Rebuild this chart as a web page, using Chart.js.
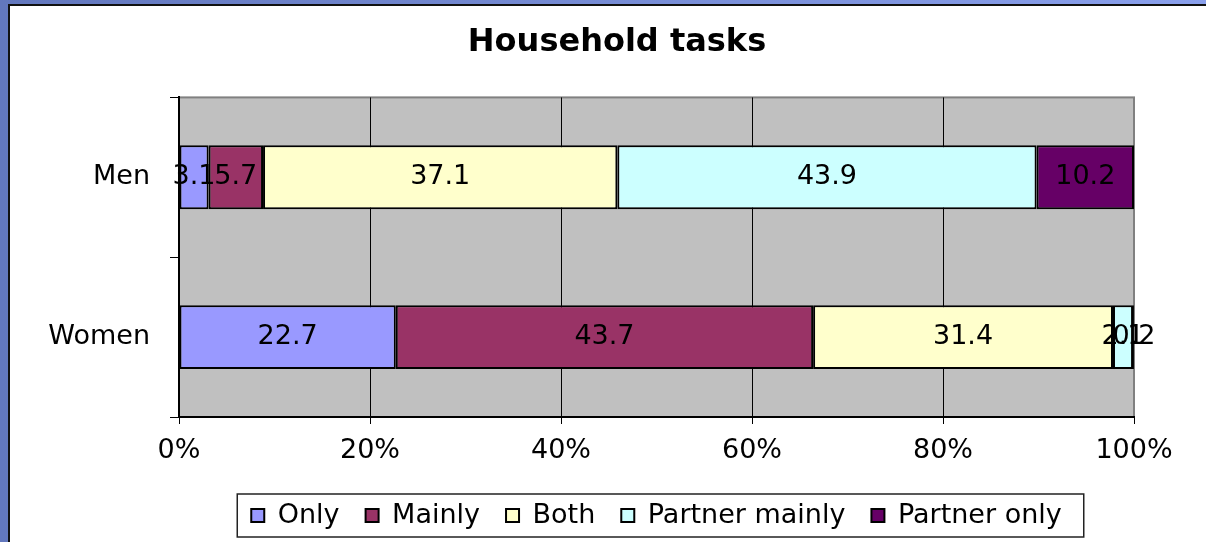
<!DOCTYPE html>
<html>
<head>
<meta charset="utf-8">
<script src="https://cdn.jsdelivr.net/npm/chart.js@4.4.1/dist/chart.umd.min.js"></script>
<style>
  html, body { margin: 0; padding: 0; overflow: hidden; width: 1206px; height: 542px; }
  body { background: linear-gradient(90deg, #6277bd, #8aa0ec); position: relative; }
  #frame { position: absolute; left: 8px; top: 4px; width: 1220px; height: 560px;
           background: #fff; border-left: 2px solid #111; border-top: 2px solid #111; }
  #chart { position: absolute; left: 0; top: 0; }
</style>
</head>
<body>
<div id="frame"></div>
<canvas id="chart" width="1234" height="542"></canvas>
<script>
const categories = ['Men', 'Women'];
const seriesNames = ['Only', 'Mainly', 'Both', 'Partner mainly', 'Partner only'];
const onlyValues = [3.1, 22.7];
const mainlyValues = [5.7, 43.7];
const bothValues = [37.1, 31.4];
const partnerMainlyValues = [43.9, 2.1];
const partnerOnlyValues = [10.2, 0.2];
const tickLabels = ['0%', '20%', '40%', '60%', '80%', '100%'];
const colors = ['#9999ff', '#993366', '#ffffcc', '#ccffff', '#660066'];

Chart.defaults.font.family = "'DejaVu Sans', sans-serif";
Chart.defaults.color = '#000';

// grey plot background with a grey frame
const plotBackground = {
  id: 'plotBackground',
  beforeDraw(chart) {
    const { ctx, chartArea: a } = chart;
    // let the category labels run past the narrow y axis box
    chart.scales.y.left = 0;
    ctx.save();
    ctx.fillStyle = '#c0c0c0';
    ctx.fillRect(a.left, a.top, a.right - a.left, a.bottom - a.top);
    ctx.strokeStyle = '#808080';
    ctx.lineWidth = 2;
    ctx.strokeRect(a.left, a.top, a.right - a.left, a.bottom - a.top);
    ctx.restore();
  }
};

// value labels in the middle of each segment
const barLabels = {
  id: 'barLabels',
  afterDatasetsDraw(chart) {
    const ctx = chart.ctx;
    ctx.save();
    ctx.font = "27px 'DejaVu Sans', sans-serif";
    ctx.fillStyle = '#000';
    ctx.textAlign = 'center';
    ctx.textBaseline = 'middle';
    chart.data.datasets.forEach((ds, i) => {
      chart.getDatasetMeta(i).data.forEach((bar, j) => {
        const p = bar.getCenterPoint();
        ctx.fillText(ds.data[j].toFixed(1), p.x, p.y);
      });
    });
    ctx.restore();
  }
};

// box round the legend
const legendBox = {
  id: 'legendBox',
  afterDraw(chart) {
    const boxes = chart.legend.legendHitBoxes;
    if (!boxes || !boxes.length) return;
    const left = Math.min(...boxes.map(b => b.left)) - 14;
    const right = Math.max(...boxes.map(b => b.left + b.width)) + 22;
    const top = boxes[0].top - 8;
    const bottom = boxes[0].top + boxes[0].height + 8;
    const ctx = chart.ctx;
    ctx.save();
    ctx.strokeStyle = '#222';
    ctx.lineWidth = 1.5;
    ctx.strokeRect(left, top, right - left, bottom - top);
    ctx.restore();
  }
};

const seriesValues = [onlyValues, mainlyValues, bothValues, partnerMainlyValues, partnerOnlyValues];

new Chart(document.getElementById('chart'), {
  type: 'bar',
  data: {
    labels: categories,
    datasets: seriesNames.map((name, i) => ({
      label: name,
      data: seriesValues[i],
      backgroundColor: colors[i],
      borderColor: '#000',
      borderWidth: 2,
      borderSkipped: false,
      barPercentage: 0.8,
      categoryPercentage: 0.5
    }))
  },
  options: {
    indexAxis: 'y',
    responsive: false,
    animation: false,
    layout: { padding: { left: 100, right: 100, top: 0, bottom: 3 } },
    plugins: {
      title: {
        display: true,
        text: 'Household tasks',
        font: { size: 32, weight: 'bold' },
        color: '#000',
        padding: { top: 23, bottom: 36 }
      },
      legend: {
        position: 'bottom',
        fullSize: false,
        labels: {
          font: { size: 27 },
          color: '#000',
          boxWidth: 13,
          boxHeight: 13,
          padding: 26
        }
      },
      tooltip: { enabled: false }
    },
    scales: {
      x: {
        stacked: true,
        min: 0,
        max: 100,
        ticks: {
          stepSize: 20,
          font: { size: 27 },
          padding: 11,
          callback: (value, index) => tickLabels[index]
        },
        grid: {
          color: ctx => (ctx.tick && ctx.tick.value === 100 ? '#808080' : '#000'),
          tickColor: '#000',
          tickLength: 7,
          lineWidth: 1
        },
        border: { color: '#000', width: 2 },
        afterFit(scale) { scale.height = 59; }
      },
      y: {
        stacked: true,
        ticks: { font: { size: 27 }, padding: 20 },
        grid: {
          drawOnChartArea: false,
          tickColor: '#000',
          tickLength: 9
        },
        border: { color: '#000', width: 2 },
        afterFit(scale) { scale.width = 79; }
      }
    }
  },
  plugins: [plotBackground, barLabels, legendBox]
});
</script>
</body>
</html>
